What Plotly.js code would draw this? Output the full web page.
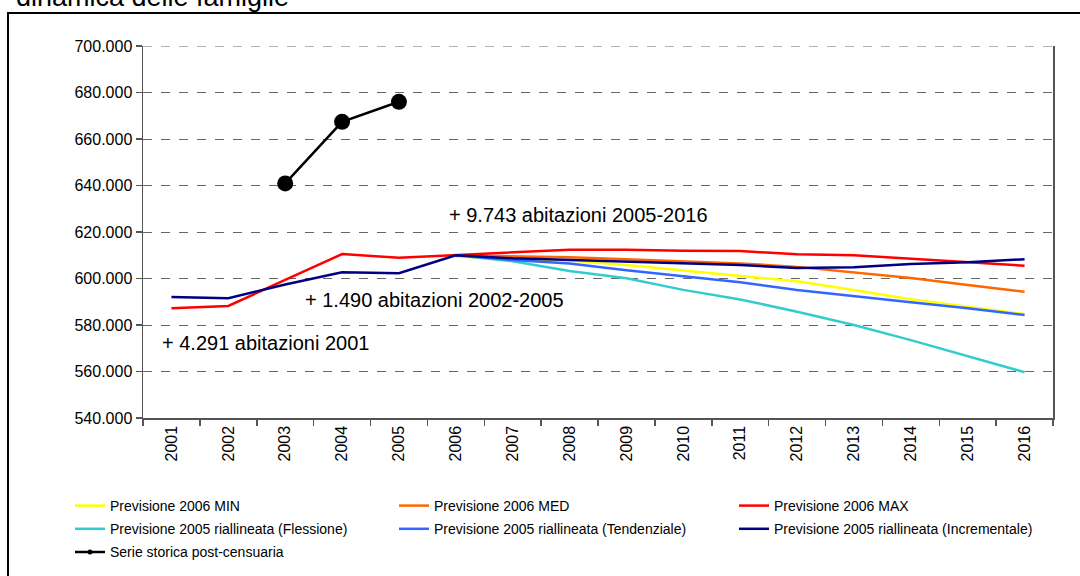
<!DOCTYPE html>
<html>
<head>
<meta charset="utf-8">
<script src="https://cdn.plot.ly/plotly-3.0.1.min.js"></script>
<style>html,body{margin:0;padding:0;background:#fff;}#chart{width:1080px;height:576px;}</style>
</head>
<body>
<div id="chart"></div>
<script>
var years = ['2001','2002','2003','2004','2005','2006','2007','2008','2009','2010','2011','2012','2013','2014','2015','2016'];
var forecastYears = ['2006','2007','2008','2009','2010','2011','2012','2013','2014','2015','2016'];
var historyYears = ['2003','2004','2005'];

var prev2006Min = [609500, 608300, 607700, 605800, 603400, 601000, 598800, 595100, 591100, 587900, 584700];
var prev2006Med = [610000, 609700, 609100, 608300, 607300, 606500, 605000, 602700, 600200, 597200, 594300];
var prev2006Max = [587200, 588200, 599400, 610500, 608900, 610000, 611300, 612400, 612400, 611900, 611800, 610400, 610000, 608400, 607000, 605500];
var prev2005Flessione = [610000, 607400, 603200, 600100, 595100, 591000, 585700, 580000, 573500, 566700, 559700];
var prev2005Tendenziale = [610000, 608000, 606500, 603500, 601000, 598400, 595100, 592300, 589800, 587200, 584300];
var prev2005Incrementale = [592000, 591500, 597400, 602700, 602300, 610000, 608700, 608000, 607300, 606500, 605800, 604500, 604800, 606200, 607000, 608300];
var serieStorica = [640900, 667400, 676000];

var names = ['Previsione 2006 MIN', 'Previsione 2006 MED', 'Previsione 2006 MAX',
  'Previsione 2005 riallineata (Flessione)', 'Previsione 2005 riallineata (Tendenziale)',
  'Previsione 2005 riallineata (Incrementale)', 'Serie storica post-censuaria'];

var yTicks = [540000, 560000, 580000, 600000, 620000, 640000, 660000, 680000, 700000];

var notes = [
  {text: '+ 9.743 abitazioni 2005-2016', year: '2006', value: 627300, shift: -9},
  {text: '+ 1.490 abitazioni 2002-2005', year: '2003', value: 590750, shift: 18},
  {text: '+ 4.291 abitazioni 2001', year: '2001', value: 572300, shift: -11}
];

function line(name, x, y, color, legend, grp) {
  return {type: 'scatter', mode: 'lines', name: name, x: x, y: y,
    line: {color: color, width: 2.5}, legend: legend, legendgroup: grp, hoverinfo: 'skip'};
}

var traces = [
  line(names[0], forecastYears, prev2006Min, '#FFFF00', 'legend', 'a'),
  line(names[1], forecastYears, prev2006Med, '#FF6600', 'legend2', 'b'),
  line(names[2], years, prev2006Max, '#FF0000', 'legend3', 'c'),
  line(names[3], forecastYears, prev2005Flessione, '#33CCCC', 'legend', 'd'),
  line(names[4], forecastYears, prev2005Tendenziale, '#3366FF', 'legend2', 'e'),
  line(names[5], years, prev2005Incrementale, '#000080', 'legend3', 'f'),
  {type: 'scatter', mode: 'lines+markers', name: names[6], x: historyYears, y: serieStorica,
    line: {color: '#000000', width: 2.5}, marker: {color: '#000000', size: 16},
    showlegend: false, hoverinfo: 'skip'},
  {type: 'scatter', mode: 'lines+markers', name: names[6], x: [null], y: [null],
    line: {color: '#000000', width: 2.5}, marker: {color: '#000000', size: 5},
    legend: 'legend', legendgroup: 'g', hoverinfo: 'skip'}
];

var W = 1080, H = 576, ml = 143, mr = 27, mt = 46, mb = 158;
var pw = W - ml - mr, ph = H - mt - mb;
function px(x) { return (x - ml) / pw; }
function py(y) { return (H - mb - y) / ph; }

var legFont = {family: 'Liberation Sans, Arial, sans-serif', size: 14, color: '#000'};
function leg(xpx) {
  return {x: px(xpx), y: py(490), xanchor: 'left', yanchor: 'top', orientation: 'v',
    font: legFont, bgcolor: 'rgba(0,0,0,0)', borderwidth: 0, tracegroupgap: 2, traceorder: 'grouped'};
}

var annotations = notes.map(function (n) {
  return {x: years.indexOf(n.year), y: n.value, xref: 'x', yref: 'y', text: n.text, showarrow: false,
    xanchor: 'left', yanchor: 'middle', xshift: n.shift,
    font: {family: 'Liberation Sans, Arial, sans-serif', size: 20, color: '#000'}};
});
annotations.push({x: px(14), y: py(-3), xref: 'paper', yref: 'paper', xanchor: 'left', yanchor: 'middle',
  text: 'dinamica delle famiglie', showarrow: false,
  font: {family: 'Liberation Sans, Arial, sans-serif', size: 27, color: '#000'}});

var layout = {
  width: W, height: H,
  margin: {l: ml, r: mr, t: mt, b: mb, pad: 0, autoexpand: false},
  paper_bgcolor: '#fff', plot_bgcolor: '#fff',
  separators: ',.',
  showlegend: true,
  font: {family: 'Liberation Sans, Arial, sans-serif', size: 16, color: '#000'},
  xaxis: {type: 'category', categoryorder: 'array', categoryarray: years, range: [-0.5, 15.5],
    tickson: 'boundaries', ticks: 'outside', ticklen: 6, tickcolor: '#555', tickwidth: 1.5,
    tickangle: -90, showgrid: false, zeroline: false, showline: true, linecolor: '#555', linewidth: 1.5,
    tickfont: {size: 16, family: 'Liberation Sans, Arial, sans-serif'}, fixedrange: true, automargin: false},
  yaxis: {range: [540000, 700000], tickvals: yTicks, tickformat: ',.0f', ticks: 'outside', ticklen: 6,
    tickcolor: '#555', tickwidth: 1.5, showline: true, mirror: true, linecolor: '#555', linewidth: 1.5,
    showgrid: true, gridcolor: '#666', griddash: 'dash', gridwidth: 1, zeroline: false,
    tickfont: {size: 16, family: 'Liberation Sans, Arial, sans-serif'}, fixedrange: true, automargin: false},
  legend: leg(70),
  legend2: leg(394),
  legend3: leg(734),
  annotations: annotations,
  shapes: [
    {type: 'rect', xref: 'paper', yref: 'paper', x0: px(8), x1: px(1090), y0: py(590), y1: py(13),
      line: {color: '#000', width: 2}, fillcolor: 'rgba(0,0,0,0)', layer: 'below'},
    {type: 'line', xref: 'paper', yref: 'y', x0: 0, x1: 1, y0: 700000, y1: 700000,
      line: {color: '#666', width: 1, dash: 'dash'}, layer: 'below'}
  ]
};

Plotly.newPlot('chart', traces, layout, {displayModeBar: false, staticPlot: true});
</script>
</body>
</html>
